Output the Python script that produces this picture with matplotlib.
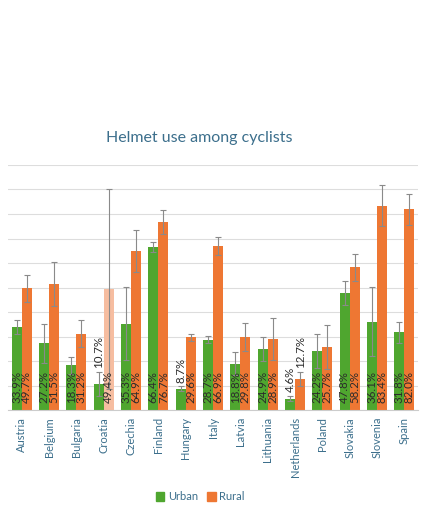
import numpy as np
import matplotlib.pyplot as plt

plt.rcParams['font.family'] = ['Lato', 'DejaVu Sans']

countries = ['Austria', 'Belgium', 'Bulgaria', 'Croatia', 'Czechia', 'Finland', 'Hungary',
             'Italy', 'Latvia', 'Lithuania', 'Netherlands', 'Poland', 'Slovakia', 'Slovenia', 'Spain']
urban = [33.9, 27.2, 18.3, 10.7, 35.3, 66.4, 8.7, 28.7, 18.8, 24.9, 4.6, 24.2, 47.8, 36.1, 31.8]
rural = [49.7, 51.5, 31.2, 49.4, 64.9, 76.7, 29.6, 66.9, 29.8, 28.9, 12.7, 25.7, 58.2, 83.4, 82.0]
urban_err = [2.7, 8.0, 3.5, 5.0, 15.0, 2.0, 1.0, 1.5, 4.7, 5.0, 1.1, 7.0, 4.8, 14.0, 4.3]
rural_err = [5.5, 9.0, 5.6, 40.8, 8.4, 5.0, 1.5, 3.6, 5.8, 8.5, 3.0, 8.8, 5.5, 8.4, 6.3]

green = '#4fa62f'
orange = '#ee7733'
peach = '#f6bda0'
text_blue = '#3c6f8c'

x = np.arange(len(countries))
w = 0.37

fig = plt.figure(figsize=(4.3, 5.22), dpi=100)
ax = fig.add_axes([8 / 430, 112 / 522, 410 / 430, 245 / 522])

rural_colors = [peach if c == 'Croatia' else orange for c in countries]
ax.bar(x - w / 2, urban, w, color=green, zorder=2)
ax.bar(x + w / 2, rural, w, color=rural_colors, zorder=2)
err_kw = dict(fmt='none', ecolor='#8a8a8a', elinewidth=0.8, capsize=2, capthick=0.8, zorder=3)
ax.errorbar(x - w / 2, urban, yerr=urban_err, **err_kw)
ax.errorbar(x + w / 2, rural, yerr=rural_err, **err_kw)

for xs, vals, errs in [(x - w / 2, urban, urban_err), (x + w / 2, rural, rural_err)]:
    for xi, v, e in zip(xs, vals, errs):
        y = v + e + 1.5 if v < 15 else 3
        ax.text(xi, y, f'{v:.1f}%', rotation=90, ha='center', va='bottom',
                fontsize=8.3, color='#2b2b2b', zorder=4)

ax.set_xlim(-0.5, len(countries) - 0.5)
ax.set_ylim(0, 100)
ax.set_yticks(np.arange(0, 101, 10))
ax.yaxis.grid(True, color='#dddddd', linewidth=0.8, zorder=0)
ax.set_yticklabels([])
ax.tick_params(axis='y', length=0)
ax.tick_params(axis='x', length=0, pad=5)
for s in ['top', 'right', 'left']:
    ax.spines[s].set_visible(False)
ax.spines['bottom'].set_color('#cccccc')
ax.set_xticks(x)
ax.set_xticklabels(countries, rotation=90, fontsize=8, color=text_blue)

fig.text(199 / 430, 1 - 138 / 522, 'Helmet use among cyclists', ha='center', va='center',
         fontsize=11.5, color=text_blue)

handles = [plt.Rectangle((0, 0), 1, 1, color=green), plt.Rectangle((0, 0), 1, 1, color=orange)]
fig.legend(handles, ['Urban', 'Rural'], loc='center', bbox_to_anchor=(200 / 430, 25 / 522),
           ncol=2, frameon=False, fontsize=8, handlelength=0.8, handleheight=0.8,
           handletextpad=0.3, columnspacing=0.8, labelcolor=text_blue)

fig.savefig('out.png', dpi=100)
